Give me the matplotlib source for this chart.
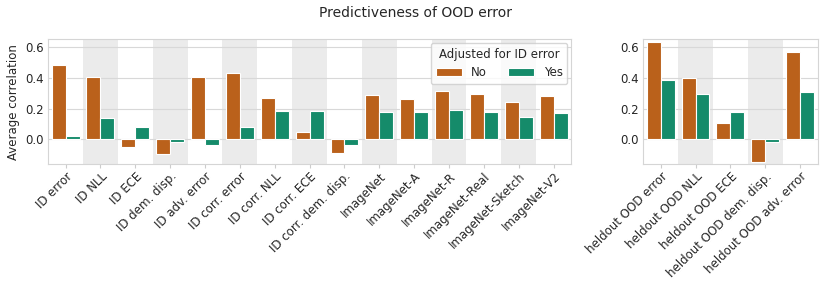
import numpy as np
import matplotlib
matplotlib.use("Agg")
import matplotlib.pyplot as plt
import seaborn as sns

# values
left_labels = ["ID error", "ID NLL", "ID ECE", "ID dem. disp.", "ID adv. error",
               "ID corr. error", "ID corr. NLL", "ID corr. ECE", "ID corr. dem. disp.",
               "ImageNet", "ImageNet-A", "ImageNet-R", "ImageNet-Real",
               "ImageNet-Sketch", "ImageNet-V2"]
left_no = [0.485, 0.405, -0.052, -0.096, 0.405, 0.433, 0.269, 0.050, -0.092,
           0.288, 0.261, 0.314, 0.292, 0.240, 0.279]
left_yes = [0.021, 0.138, 0.078, -0.015, -0.035, 0.080, 0.184, 0.186, -0.035,
            0.178, 0.178, 0.190, 0.175, 0.145, 0.171]

right_labels = ["heldout OOD error", "heldout OOD NLL", "heldout OOD ECE",
                "heldout OOD dem. disp.", "heldout OOD adv. error"]
right_no = [0.633, 0.399, 0.106, -0.145, 0.565]
right_yes = [0.388, 0.295, 0.175, -0.015, 0.305]

sns.set_style("whitegrid")
plt.rcParams["font.family"] = ["DejaVu Sans"]

pal = sns.color_palette("colorblind")
c_no = sns.desaturate(pal[3], 0.75)
c_yes = sns.desaturate(pal[2], 0.75)

fig = plt.figure(figsize=(8.3, 2.91), dpi=100)
ax1 = fig.add_axes([0.058, 0.435, 0.630, 0.430])
ax2 = fig.add_axes([0.775, 0.435, 0.210, 0.430])
fig.suptitle("Predictiveness of OOD error", fontsize=10, y=0.98)


def draw(ax, labels, no, yes):
    x = np.arange(len(labels))
    w = 0.4
    # alternating grey shading behind categories
    for i in x:
        if i % 2 == 1:
            ax.axvspan(i - 0.5, i + 0.5, color="#ebebeb", zorder=0, lw=0)
    ax.bar(x - w / 2, no, w, color=c_no, edgecolor="white", linewidth=0.8,
           label="No", zorder=2)
    ax.bar(x + w / 2, yes, w, color=c_yes, edgecolor="white", linewidth=0.8,
           label="Yes", zorder=2)
    ax.set_xlim(-0.5, len(labels) - 0.5)
    ax.set_ylim(-0.163, 0.65)
    ax.set_yticks([0.0, 0.2, 0.4, 0.6])
    ax.set_xticks(x)
    ax.set_xticklabels(labels, rotation=45, ha="right", rotation_mode="anchor",
                       fontsize=8.5)
    ax.tick_params(axis="y", labelsize=8.5, length=0, pad=3)
    ax.tick_params(axis="x", bottom=True, length=3, width=0.8,
                   color="#cccccc", pad=1)
    ax.grid(False, axis="x")
    ax.grid(True, axis="y", color="#d8d8d8", lw=0.8, zorder=1)
    ax.set_axisbelow(True)
    for s in ax.spines.values():
        s.set_color("#d5d5d5")


draw(ax1, left_labels, left_no, left_yes)
draw(ax2, right_labels, right_no, right_yes)

ax1.set_ylabel("Average correlation", fontsize=8.5)
leg = ax1.legend(title="Adjusted for ID error", ncol=2, loc="upper right",
                 fontsize=8.5, title_fontsize=8.5, borderaxespad=0.3,
                 handlelength=2.2, columnspacing=1.8)

fig.savefig("out.png", dpi=100)
